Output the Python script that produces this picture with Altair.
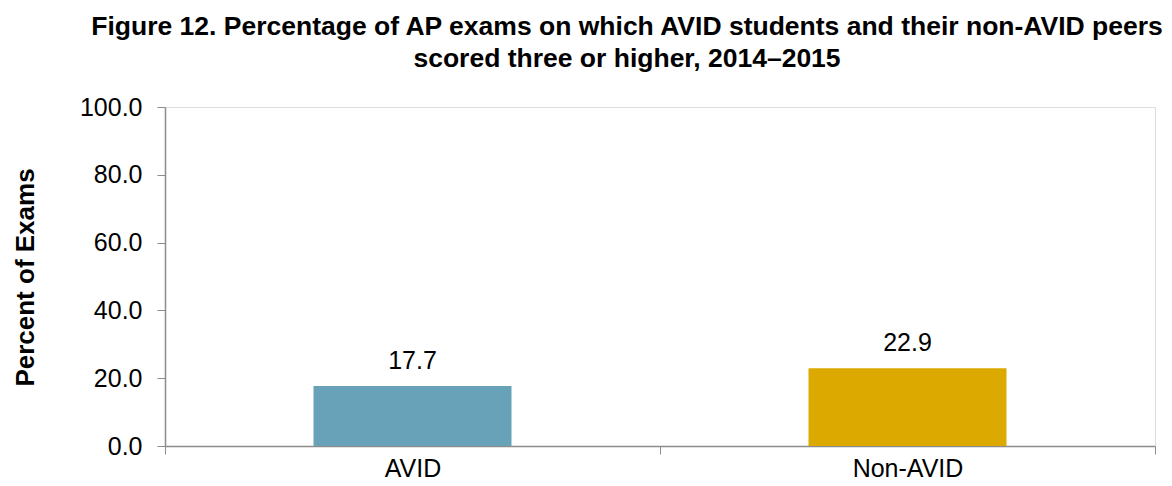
import altair as alt
import pandas as pd

groups = ["AVID", "Non-AVID"]
values = [17.7, 22.9]
colors = ["#68A2B8", "#DBA900"]
y_ticks = [0, 20, 40, 60, 80, 100]

df = pd.DataFrame({"group": groups, "value": values})

FONT = "Liberation Sans"
AXIS_COLOR = "#8C8C8C"

x_enc = alt.X(
    "group:N",
    sort=groups,
    scale=alt.Scale(paddingInner=0, paddingOuter=0),
    axis=alt.Axis(
        title=None,
        labelAngle=0,
        labelFont=FONT,
        labelFontSize=25,
        labelColor="#000000",
        labelPadding=2,
        tickBand="extent",
        tickSize=8,
        tickColor=AXIS_COLOR,
        domainColor=AXIS_COLOR,
        domainWidth=1.5,
        grid=False,
    ),
)

y_enc = alt.Y(
    "value:Q",
    scale=alt.Scale(domain=[0, 100], nice=False),
    axis=alt.Axis(
        title="Percent of Exams",
        titleFont=FONT,
        titleFontSize=26,
        titleFontWeight="bold",
        titleColor="#000000",
        titleAngle=270,
        titleBaseline="alphabetic",
        titleAlign="center",
        titleX=-132,
        titleY=170,
        values=y_ticks,
        format=".1f",
        labelFont=FONT,
        labelFontSize=25,
        labelColor="#000000",
        labelPadding=15,
        tickSize=8,
        tickColor=AXIS_COLOR,
        domainColor=AXIS_COLOR,
        domainWidth=1.5,
        grid=False,
    ),
)

bars = alt.Chart(df).mark_bar(size=198).encode(
    x=x_enc,
    y=y_enc,
    color=alt.Color("group:N", scale=alt.Scale(domain=groups, range=colors), legend=None),
)

labels = alt.Chart(df).mark_text(
    font=FONT, fontSize=25, color="#000000", baseline="alphabetic", dy=-17
).encode(
    x=alt.X("group:N", sort=groups),
    y="value:Q",
    text=alt.Text("value:Q", format=".1f"),
)

chart = (
    alt.layer(bars, labels)
    .properties(
        width=990,
        height=339,
        title=alt.TitleParams(
            text=[
                "Figure 12. Percentage of AP exams on which AVID students and their non-AVID peers",
                "scored three or higher, 2014\u20132015",
            ],
            font=FONT,
            fontSize=26.5,
            fontWeight="bold",
            color="#000000",
            anchor="middle",
            lineHeight=32,
            offset=23,
            dx=-33,
        ),
        autosize=alt.AutoSizeParams(type="none"),
        padding={"left": 157, "top": 99, "right": 9, "bottom": 36},
    )
    .configure_view(stroke=None)
    .configure(background="#FFFFFF")
)

chart.save("out.html", embed_options={"renderer": "svg", "actions": False})
